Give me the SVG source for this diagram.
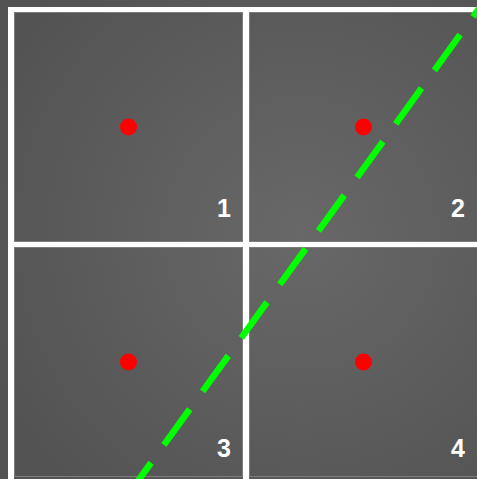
<svg xmlns="http://www.w3.org/2000/svg" width="477" height="479" viewBox="0 0 477 479">
  <defs>
    <radialGradient id="bg" cx="300" cy="235" r="340" gradientUnits="userSpaceOnUse">
      <stop offset="0" stop-color="#686868"/>
      <stop offset="1" stop-color="#535353"/>
    </radialGradient>
    <style>
      .grid { fill: #ffffff; }
      .cell { fill: none; stroke: #7c7c7c; stroke-width: 1; }
      .dot { fill: #ff0000; }
      .label { fill: #ffffff; font-family: "Liberation Sans", Arial, sans-serif; font-weight: bold; font-size: 25px; text-anchor: end; }
      .divider { fill: none; stroke: #00ff00; stroke-width: 6.5; stroke-dasharray: 44 22; stroke-dashoffset: 14; }
    </style>
  </defs>
  <rect x="0" y="0" width="477" height="479" fill="url(#bg)"/>
  <g id="grid">
    <rect class="grid" x="8" y="7" width="469" height="5"/>
    <rect class="grid" x="8" y="7" width="6" height="472"/>
    <rect class="grid" x="243" y="7" width="6" height="472"/>
    <rect class="grid" x="8" y="242" width="469" height="5"/>
  </g>
  <g id="cell1">
    <rect class="cell" x="14.5" y="12.5" width="228" height="229"/>
    <circle class="dot" cx="128.5" cy="127" r="8.5"/>
    <text class="label" x="231" y="217">1</text>
  </g>
  <g id="cell2">
    <rect class="cell" x="249.5" y="12.5" width="240" height="229"/>
    <circle class="dot" cx="363.5" cy="127" r="8.5"/>
    <text class="label" x="465" y="217">2</text>
  </g>
  <g id="cell3">
    <rect class="cell" x="14.5" y="247.5" width="228" height="229"/>
    <circle class="dot" cx="128.5" cy="362" r="8.5"/>
    <text class="label" x="231" y="457">3</text>
  </g>
  <g id="cell4">
    <rect class="cell" x="249.5" y="247.5" width="240" height="229"/>
    <circle class="dot" cx="363.5" cy="362" r="8.5"/>
    <text class="label" x="465" y="457">4</text>
  </g>
  <g id="connectors">
    <line class="divider" x1="133.5" y1="487.1" x2="492.4" y2="-10"/>
  </g>
</svg>
